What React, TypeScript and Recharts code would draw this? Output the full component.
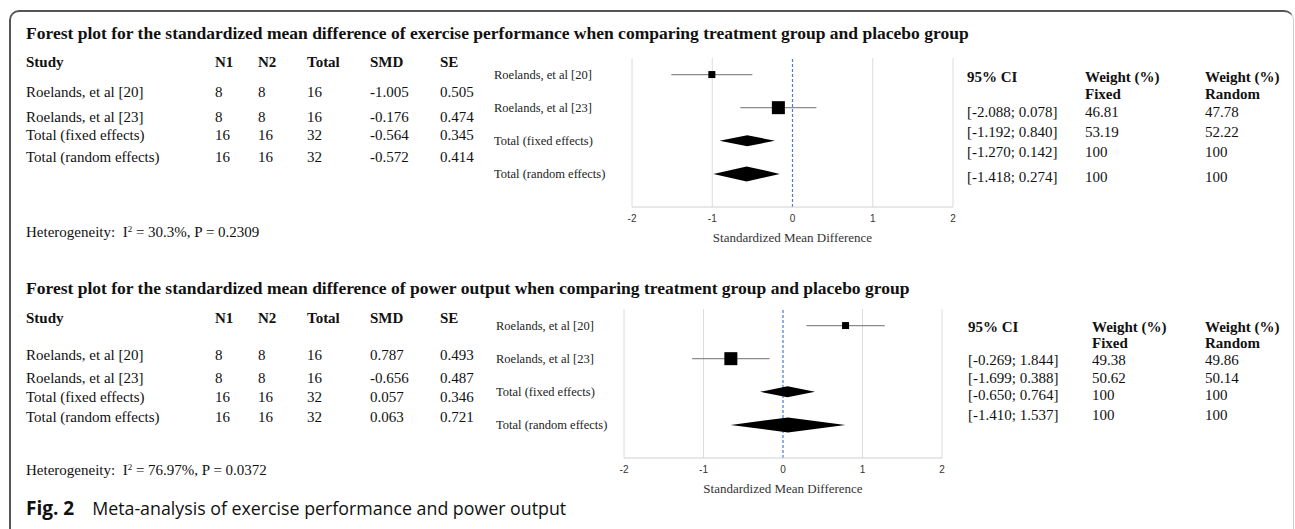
import React from 'react';
import * as R from 'recharts';
import { ComposedChart, Scatter, XAxis, YAxis, ZAxis, ErrorBar, ReferenceLine } from 'recharts';

// ---------- data ----------
const STUDIES = ['Roelands, et al [20]', 'Roelands, et al [23]', 'Total (fixed effects)', 'Total (random effects)'];

const P1_TITLE = 'Forest plot for the standardized mean difference of exercise performance when comparing treatment group and placebo group';
const P1_N1 = [8, 8, 16, 16];
const P1_N2 = [8, 8, 16, 16];
const P1_TOTAL = [16, 16, 32, 32];
const P1_SMD = [-1.005, -0.176, -0.564, -0.572];
const P1_SE = [0.505, 0.474, 0.345, 0.414];
const P1_CI_LO = [-2.088, -1.192, -1.270, -1.418];
const P1_CI_HI = [0.078, 0.840, 0.142, 0.274];
const P1_W_FIXED = [46.81, 53.19, 100, 100];
const P1_W_RANDOM = [47.78, 52.22, 100, 100];
const P1_I2 = '30.3%';
const P1_P = '0.2309';

const P2_TITLE = 'Forest plot for the standardized mean difference of power output when comparing treatment group and placebo group';
const P2_N1 = [8, 8, 16, 16];
const P2_N2 = [8, 8, 16, 16];
const P2_TOTAL = [16, 16, 32, 32];
const P2_SMD = [0.787, -0.656, 0.057, 0.063];
const P2_SE = [0.493, 0.487, 0.346, 0.721];
const P2_CI_LO = [-0.269, -1.699, -0.650, -1.410];
const P2_CI_HI = [1.844, 0.388, 0.764, 1.537];
const P2_W_FIXED = [49.38, 50.62, 100, 100];
const P2_W_RANDOM = [49.86, 50.14, 100, 100];
const P2_I2 = '76.97%';
const P2_P = '0.0372';

const X_DOMAIN = [-2, 2];
const X_TICKS = [-2, -1, 0, 1, 2];
const GRID_X = [-2, -1, 1, 2];
const ROW_TICKS = [1, 2, 3, 4];
const Y_DOMAIN = [0.5, 5];
const X_LABEL = 'Standardized Mean Difference';
const CAPTION_LABEL = 'Fig. 2';
const CAPTION_TEXT = 'Meta-analysis of exercise performance and power output';

// ---------- styles ----------
const SERIF = '"Liberation Serif", "Times New Roman", serif';
const SANS = '"Liberation Sans", Arial, sans-serif';

const usePlotAreaSafe: () => any = (R as any).usePlotArea || (() => null);

function SquareMark(props: any) {
  const { cx, cy, size } = props;
  if (cx == null || cy == null) return null;
  const s = size ? Math.sqrt(size) : 9;
  return <rect x={cx - s / 2} y={cy - s / 2} width={s} height={s} fill="#000" />;
}

function DiamondMark(props: any) {
  const pa = usePlotAreaSafe();
  const { cx, cy, payload, halfHeight } = props;
  if (cx == null || cy == null) return null;
  const ppu = pa && pa.width ? pa.width / (X_DOMAIN[1] - X_DOMAIN[0]) : 80;
  const hw = (payload?.se ?? 0) * ppu;
  const hh = halfHeight;
  return (
    <polygon
      points={`${cx - hw},${cy} ${cx},${cy - hh} ${cx + hw},${cy} ${cx},${cy + hh}`}
      fill="#000"
    />
  );
}

function RowLabel(props: any) {
  const { x, y, payload, shift } = props;
  const label = STUDIES[(payload?.value ?? 1) - 1];
  return (
    <text x={x - shift} y={y} dy={4} textAnchor="start" fill="#222" fontSize={12.5} fontFamily={SERIF}>
      {label}
    </text>
  );
}

function T({ x, y, children, bold, size = 15 }: any) {
  return (
    <div
      style={{
        position: 'absolute',
        left: x,
        top: y - 9,
        lineHeight: '18px',
        fontSize: size,
        fontWeight: bold ? 700 : 400,
        fontFamily: SERIF,
        whiteSpace: 'nowrap',
        color: '#111',
      }}
    >
      {children}
    </div>
  );
}

const fmt3 = (v: number) => v.toFixed(3);
const fmtW = (v: number) => (v === 100 ? '100' : v.toFixed(2));

function Forest({ smd, se, w, left, top, yAxisWidth, plotWidth }: any) {
  const studyRows = [0, 1].map((i) => ({ x: smd[i], y: i + 1, se: se[i], w: w[i] }));
  const fixedRow = [{ x: smd[2], y: 3, se: se[2] }];
  const randomRow = [{ x: smd[3], y: 4, se: se[3] }];
  const rightM = 15;
  const width = yAxisWidth + plotWidth + rightM;
  const height = 8 + 149 + 40 + 2;
  return (
    <div style={{ position: 'absolute', left, top }}>
      <ComposedChart width={width} height={height} margin={{ top: 8, right: rightM, bottom: 2, left: 0 }}>
        <XAxis
          type="number"
          dataKey="x"
          domain={X_DOMAIN}
          ticks={X_TICKS}
          allowDataOverflow
          height={40}
          stroke="#d0d0d0"
          tickLine={false}
          tick={{ fill: '#333', fontSize: 10, fontFamily: SANS }}
          label={{ value: X_LABEL, position: 'insideBottom', offset: 5, fill: '#333', fontSize: 13, fontFamily: SERIF }}
        />
        <YAxis
          type="number"
          dataKey="y"
          domain={Y_DOMAIN}
          reversed
          ticks={ROW_TICKS}
          width={yAxisWidth}
          axisLine={false}
          tickLine={false}
          tickSize={0}
          tickMargin={0}
          allowDataOverflow
          tick={<RowLabel shift={yAxisWidth} />}
        />
        <ZAxis type="number" dataKey="w" domain={['dataMin', 'dataMax']} range={[49, 169]} />
        {GRID_X.map((v) => (
          <ReferenceLine key={v} x={v} stroke="#dcdcdc" strokeWidth={1} />
        ))}
        <ReferenceLine x={0} stroke="#4a7bd0" strokeDasharray="3 2" strokeWidth={1.2} />
        <Scatter data={studyRows} shape={<SquareMark />} isAnimationActive={false}>
          <ErrorBar dataKey="se" direction="x" width={0} stroke="#8c8c8c" strokeWidth={1.3} />
        </Scatter>
        <Scatter data={fixedRow} shape={<DiamondMark halfHeight={5.5} />} isAnimationActive={false} />
        <Scatter data={randomRow} shape={<DiamondMark halfHeight={7.5} />} isAnimationActive={false} />
      </ComposedChart>
    </div>
  );
}

function Panel({ title, n1, n2, total, smd, se, lo, hi, wf, wr, i2, p, pos }: any) {
  const cols = [26, 215, 258, 307, 370, 440];
  return (
    <>
      <T x={26} y={pos.title} bold size={17.5}>{title}</T>
      <T x={cols[0]} y={pos.header} bold>Study</T>
      <T x={cols[1]} y={pos.header} bold>N1</T>
      <T x={cols[2]} y={pos.header} bold>N2</T>
      <T x={cols[3]} y={pos.header} bold>Total</T>
      <T x={cols[4]} y={pos.header} bold>SMD</T>
      <T x={cols[5]} y={pos.header} bold>SE</T>
      {STUDIES.map((s, i) => (
        <React.Fragment key={s}>
          <T x={cols[0]} y={pos.rows[i]}>{s}</T>
          <T x={cols[1]} y={pos.rows[i]}>{n1[i]}</T>
          <T x={cols[2]} y={pos.rows[i]}>{n2[i]}</T>
          <T x={cols[3]} y={pos.rows[i]}>{total[i]}</T>
          <T x={cols[4]} y={pos.rows[i]}>{fmt3(smd[i])}</T>
          <T x={cols[5]} y={pos.rows[i]}>{fmt3(se[i])}</T>
        </React.Fragment>
      ))}
      <T x={26} y={pos.het}>
        Heterogeneity:&nbsp;&nbsp;I<sup style={{ fontSize: 9, verticalAlign: 'top', lineHeight: '12px' }}>2</sup> = {i2}, P = {p}
      </T>
      <T x={pos.rc[0]} y={pos.rh1} bold>95% CI</T>
      <T x={pos.rc[1]} y={pos.rh1} bold>Weight (%)</T>
      <T x={pos.rc[1]} y={pos.rh2} bold>Fixed</T>
      <T x={pos.rc[2]} y={pos.rh1} bold>Weight (%)</T>
      <T x={pos.rc[2]} y={pos.rh2} bold>Random</T>
      {STUDIES.map((s, i) => (
        <React.Fragment key={s + 'r'}>
          <T x={pos.rc[0]} y={pos.rrows[i]}>[{fmt3(lo[i])}; {fmt3(hi[i])}]</T>
          <T x={pos.rc[1]} y={pos.rrows[i]}>{fmtW(wf[i])}</T>
          <T x={pos.rc[2]} y={pos.rrows[i]}>{fmtW(wr[i])}</T>
        </React.Fragment>
      ))}
    </>
  );
}

export default function App() {
  return (
    <div
      style={{
        position: 'absolute',
        left: 0,
        top: 0,
        width: 1295,
        height: 529,
        background: '#fff',
        overflow: 'hidden',
      }}
    >
      <div
        style={{
          position: 'absolute',
          left: 9,
          top: 10,
          width: 1282,
          height: 540,
          borderTop: '2px solid #555',
          borderLeft: '2px solid #555',
          borderRight: '1px solid #ccc',
          borderTopLeftRadius: 10,
          borderTopRightRadius: 10,
        }}
      />
      <Panel
        title={P1_TITLE}
        n1={P1_N1}
        n2={P1_N2}
        total={P1_TOTAL}
        smd={P1_SMD}
        se={P1_SE}
        lo={P1_CI_LO}
        hi={P1_CI_HI}
        wf={P1_W_FIXED}
        wr={P1_W_RANDOM}
        i2={P1_I2}
        p={P1_P}
        pos={{ title: 33, header: 62, rows: [92, 117, 135, 157], het: 232, rc: [967, 1085, 1205], rh1: 77, rh2: 94, rrows: [112, 132, 152, 177] }}
      />
      <Forest smd={P1_SMD} se={P1_SE} w={P1_W_FIXED} left={494} top={50} yAxisWidth={138} plotWidth={321} />
      <Panel
        title={P2_TITLE}
        n1={P2_N1}
        n2={P2_N2}
        total={P2_TOTAL}
        smd={P2_SMD}
        se={P2_SE}
        lo={P2_CI_LO}
        hi={P2_CI_HI}
        wf={P2_W_FIXED}
        wr={P2_W_RANDOM}
        i2={P2_I2}
        p={P2_P}
        pos={{ title: 288, header: 318, rows: [355, 378, 397, 417], het: 470, rc: [968, 1092, 1205], rh1: 327, rh2: 343, rrows: [360, 378, 395, 415] }}
      />
      <Forest smd={P2_SMD} se={P2_SE} w={P2_W_FIXED} left={496} top={301} yAxisWidth={128} plotWidth={318} />
      <div
        style={{
          position: 'absolute',
          left: 26,
          top: 496,
          lineHeight: '24px',
          fontSize: 17.8,
          fontFamily: '"Open Sans", sans-serif',
          color: '#111',
          whiteSpace: 'nowrap',
        }}
      >
        <span style={{ fontWeight: 700, fontSize: 19 }}>{CAPTION_LABEL}</span>
        <span style={{ marginLeft: 18 }}>{CAPTION_TEXT}</span>
      </div>
    </div>
  );
}
